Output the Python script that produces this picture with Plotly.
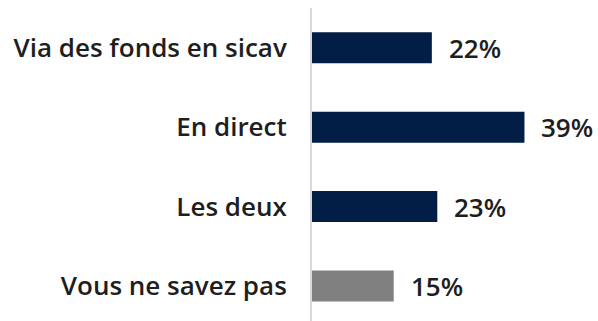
import plotly.graph_objects as go

# Survey answers and their shares (percent)
categories = ["Via des fonds en sicav", "En direct", "Les deux", "Vous ne savez pas"]
values = [22, 39, 23, 15]
bar_colors = ["#021e46", "#021e46", "#021e46", "#808080"]
value_labels = [f"{v}%" for v in values]

FONT = "Open Sans"
TEXT_COLOR = "#1e1e1e"

fig = go.Figure(
    go.Bar(
        x=values,
        y=categories,
        orientation="h",
        width=0.39,
        marker=dict(color=bar_colors, line=dict(width=0)),
        hoverinfo="skip",
    )
)

# Percentage labels just past the end of each bar
for cat, v, label in zip(categories, values, value_labels):
    fig.add_annotation(
        x=v,
        y=cat,
        text=label,
        showarrow=False,
        xanchor="left",
        yanchor="middle",
        xshift=15,
        font=dict(family=FONT, size=26, color=TEXT_COLOR, weight=600),
    )

fig.update_layout(
    width=598,
    height=321,
    margin=dict(l=312, r=0, t=8, b=0, pad=0),
    paper_bgcolor="white",
    plot_bgcolor="white",
    showlegend=False,
    bargap=0.6,
)

fig.update_xaxes(
    range=[0, 52.5],
    visible=False,
    showgrid=False,
    zeroline=False,
)

fig.update_yaxes(
    type="category",
    range=[3.44, -0.5],
    showgrid=False,
    zeroline=False,
    showline=True,
    linecolor="#d9d9d9",
    linewidth=2,
    ticks="",
    ticklabelstandoff=18,
    automargin=False,
    tickfont=dict(family=FONT, size=26, color=TEXT_COLOR, weight=600),
)

fig.write_html("out.html")
